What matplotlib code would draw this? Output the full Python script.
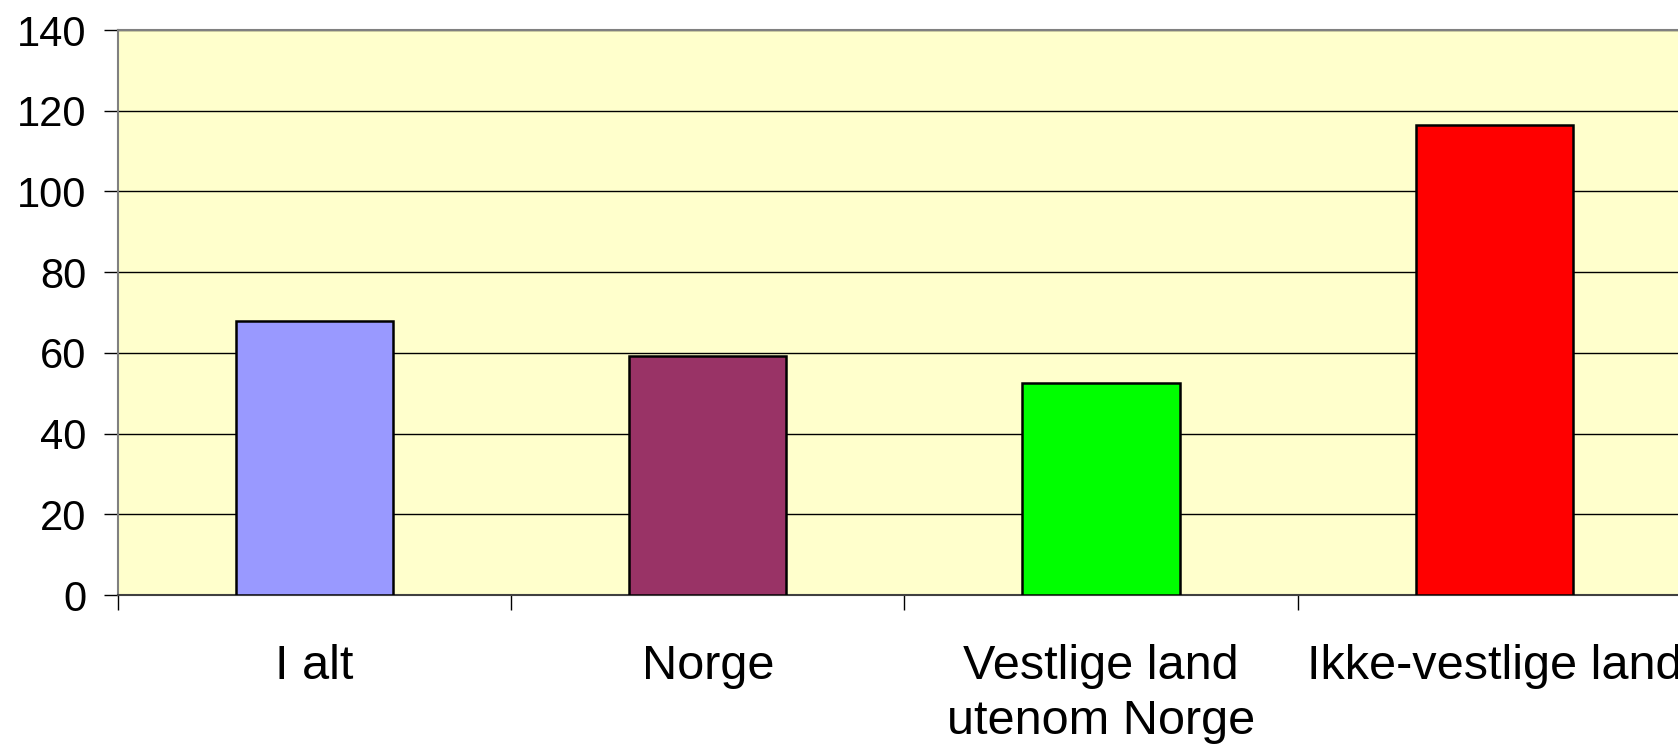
import matplotlib.pyplot as plt

# data
categories = ["I alt", "Norge", "Vestlige land\nutenom Norge", "Ikke-vestlige land"]
values = [68.0, 59.3, 52.6, 116.4]
colors = ["#9999FF", "#993366", "#00FF00", "#FF0000"]
yticks = [0, 20, 40, 60, 80, 100, 120, 140]

plt.rcParams["font.family"] = ["Liberation Sans", "DejaVu Sans"]

fig = plt.figure(figsize=(16.78, 7.45), dpi=100)
ax = fig.add_axes([0.0703, 0.2013, 0.9374, 0.7584])
ax.set_facecolor("#FFFFCC")

x = range(len(categories))
ax.bar(x, values, width=0.4, color=colors, edgecolor="black", linewidth=1.8, zorder=3)

ax.set_ylim(0, 140)
ax.set_xlim(-0.5, len(categories) - 0.5)
ax.set_yticks(yticks)
ax.set_yticklabels([str(v) for v in yticks], fontsize=30)
ax.grid(axis="y", color="black", linewidth=1.0, zorder=1)
ax.tick_params(axis="y", length=10, width=1, pad=13, color="black")

# category boundaries as major ticks, names as minor ticks
ax.set_xticks([i - 0.5 for i in range(len(categories) + 1)])
ax.set_xticklabels([])
ax.set_xticks(list(x), minor=True)
ax.set_xticklabels(categories, minor=True, fontsize=35, linespacing=1.3)
ax.tick_params(axis="x", which="major", length=11, width=1, color="black")
ax.tick_params(axis="x", which="minor", length=0, pad=35)

for s in ["left", "top"]:
    ax.spines[s].set_color("#808080")
    ax.spines[s].set_linewidth(1.5)
ax.spines["bottom"].set_color("#404040")
ax.spines["bottom"].set_linewidth(1.5)
ax.spines["right"].set_visible(False)

fig.savefig("out.png", dpi=100)
